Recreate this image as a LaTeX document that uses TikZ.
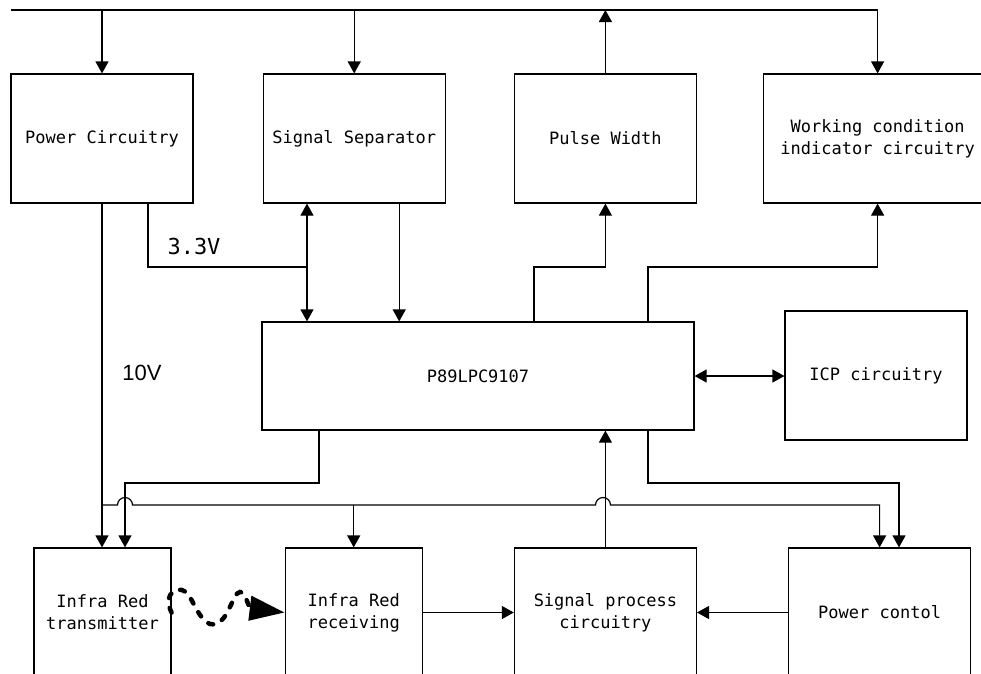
\documentclass[tikz,border=0pt]{standalone}
\usepackage{fontspec}
\setmonofont{DejaVu Sans Mono}
\setsansfont{Liberation Sans}
\usetikzlibrary{arrows.meta, positioning}
\tikzstyle{block}=[draw,fill=white,rectangle,line width=1.2pt,minimum width=182pt,minimum height=129pt,align=center,font=\fontsize{17}{22}\selectfont\ttfamily]
\tikzstyle{wire}=[line width=1.2pt]
\tikzstyle{irwave}=[line width=4.5pt,dash pattern=on 5pt off 10pt,line cap=round,-{Triangle[length=35pt,width=24pt]}]

\begin{document}
\begin{tikzpicture}[x=1pt,y=-1pt,>={Triangle[length=12pt,width=13pt]}]
    \useasboundingbox (0,0) rectangle (981,673);
    \clip (0,0) rectangle (981,673);
    \node[block] (pwr) at (102,138.5) {Power Circuitry};
    \node[block, right=69pt of pwr] (sep) {Signal Separator};
    \node[block, right=68pt of sep] (pw) {Pulse Width};
    \node[block, right=66pt of pw, minimum width=228pt] (wc) {Working condition\\indicator circuitry};
    \node[block, minimum width=432pt, minimum height=108pt] (mcu) at (478,376) {P89LPC9107};
    \node[block] (icp) at (876,375.5) {ICP circuitry};
    \node[block, minimum width=137pt] (tx) at (102.5,612.5) {Infra Red\\transmitter};
    \node[block, minimum width=137pt, right=113pt of tx] (rx) {Infra Red\\receiving};
    \node[block, right=91pt of rx] (sp) {Signal process\\circuitry};
    \node[block, right=91pt of sp] (pc) {Power contol};
    \node[font=\fontsize{22}{22}\selectfont\ttfamily] (l33) at (194,246) {3.3V};
    \node[font=\fontsize{22}{22}\selectfont\sffamily] (l10) at (142,373) {10V};
    \coordinate (topbus) at (11,10);
    \coordinate (v33) at (307,267);
    \coordinate (sepout) at ([xshift=45pt]sep.south);
    \coordinate (lowbus) at (102,505);
    \coordinate (hopL) at (125,505);
    \coordinate (hopR) at (603,505);
    \coordinate (lowL) at (125,483);
    \coordinate (lowR) at (899,483);
    \draw[wire,->] (topbus) -| (wc.north);
    \draw[wire,->] (pwr.north |- topbus) -- (pwr.north);
    \draw[wire,->] (sep.north |- topbus) -- (sep.north);
    \draw[wire,->] (pw.north) -- (pw.north |- topbus);
    \draw[wire] ([xshift=46pt]pwr.south) |- (v33);
    \draw[wire,<->] (sep.south -| v33) -- (mcu.north -| v33);
    \draw[wire,->] (sepout) -- (sepout |- mcu.north);
    \draw[wire,->] ([xshift=56pt]mcu.north) |- (pw.south |- v33) -- (pw.south);
    \draw[wire,->] ([xshift=170pt]mcu.north) |- (wc.south |- v33) -- (wc.south);
    \draw[wire,<->] (mcu.east) -- (mcu.east -| icp.west);
    \draw[wire,->] (pwr.south) -- (pwr.south |- tx.north);
    \draw[wire,->] (lowbus) -- ([xshift=-7.5pt]hopL) arc[start angle=180,end angle=360,radius=7.5]
        -- ([xshift=-7.5pt]hopR) arc[start angle=180,end angle=360,radius=7.5] -| (pc.north);
    \draw[wire,->] (rx.north |- lowbus) -- (rx.north);
    \draw[wire,->] ([xshift=-159pt]mcu.south) |- (lowL) -- (lowL |- tx.north);
    \draw[wire,->] ([xshift=170pt]mcu.south) |- (lowR) -- (lowR |- pc.north);
    \draw[wire,->] (sp.north) -- (sp.north |- mcu.south);
    \draw[wire,->] (rx.east) -- (sp.west);
    \draw[wire,->] (pc.west) -- (sp.east);
    \draw[irwave] (tx.east) .. controls (164,598) and (172,588) .. (182,590)
        .. controls (192,592) and (196,618) .. (210,624)
        .. controls (228,628) and (232,592) .. (240,592)
        .. controls (246,592) and (248,608) .. (rx.west);
\end{tikzpicture}
\end{document}
